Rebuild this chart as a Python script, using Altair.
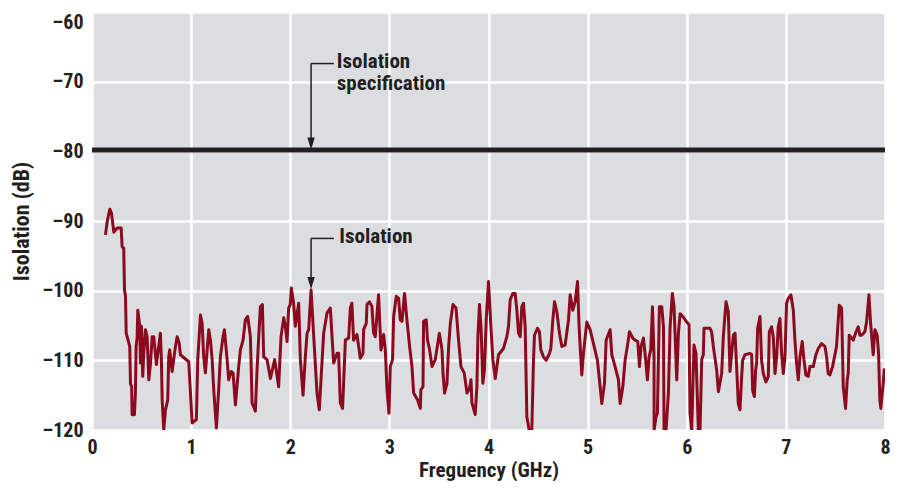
import altair as alt
import pandas as pd

# --- measured isolation trace (GHz, dB) ---
freq = [0.136,0.153,0.18,0.197,0.22,0.254,0.294,0.304,0.32,0.328,0.338,0.345,0.381,0.388,0.400,0.405,0.428,0.438,0.445,0.455,0.462,0.482,0.489,0.499,0.512,0.522,0.539,0.556,0.573,0.59,0.607,0.623,0.65,0.664,0.69,0.70,0.708,0.724,0.741,0.764,0.774,0.784,0.808,0.842,0.859,0.879,0.892,0.976,1.01,1.053,1.067,1.094,1.111,1.127,1.144,1.178,1.195,1.212,1.228,1.255,1.278,1.295,1.322,1.336,1.363,1.379,1.404,1.423,1.447,1.48,1.497,1.524,1.547,1.571,1.598,1.615,1.648,1.665,1.682,1.699,1.719,1.732,1.766,1.8,1.843,1.883,1.907,1.934,1.951,1.968,1.984,2.0,2.011,2.034,2.051,2.085,
        2.102,2.129,2.152,2.17,2.186,2.21,2.237,2.27,2.293,2.337,2.371,2.404,2.438,2.472,2.488,2.505,2.528,2.556,2.589,2.606,2.622,2.639,2.673,2.707,2.734,2.74,2.767,2.774,2.8,2.824,2.841,2.858,2.881,2.891,2.915,2.942,2.959,2.976,2.996,3.009,3.032,3.043,3.07,3.093,3.11,3.127,3.153,3.177,3.204,3.228,3.245,3.285,3.312,3.318,3.339,3.345,3.372,3.385,3.406,3.43,3.463,3.504,3.531,3.541,3.557,3.581,3.598,3.615,3.641,3.672,3.698,3.722,3.755,3.783,3.809,3.823,3.833,3.866,3.883,3.893,3.909,3.926,3.943,3.959,3.977,4.0,4.024,4.044,4.068,4.101,4.151,4.185,4.202,
        4.219,4.246,4.269,4.286,4.303,4.32,4.336,4.353,4.37,4.387,4.41,4.437,4.454,4.464,4.494,4.514,4.528,4.555,4.582,4.615,4.629,4.649,4.666,4.689,4.716,4.74,4.773,4.807,4.824,4.851,4.874,4.898,4.914,4.941,4.958,4.992,5.025,5.059,5.099,5.119,5.143,5.17,5.187,5.2,5.227,5.244,5.277,5.311,5.328,5.355,5.378,5.405,5.422,5.455,5.479,5.506,5.523,5.539,5.563,5.586,5.603,5.62,5.637,5.654,5.67,5.671,5.69,5.704,5.724,5.748,5.765,5.771,5.791,5.815,5.832,5.855,5.872,5.899,5.916,5.933,5.96,6.0,6.023,6.033,
        6.05,6.073,6.093,6.117,6.134,6.151,6.167,6.174,6.235,6.251,6.268,6.302,6.319,6.352,6.369,6.396,6.419,6.436,6.47,6.487,6.503,6.52,6.537,6.554,6.564,6.587,6.638,6.655,6.665,6.682,6.695,6.705,6.715,6.739,6.755,6.772,6.799,6.823,6.833,6.856,6.873,6.89,6.907,6.923,6.94,6.957,6.974,6.991,7.007,7.024,7.051,7.075,7.091,7.108,7.125,7.142,7.165,7.182,7.202,7.226,7.243,7.276,7.303,7.327,7.36,7.394,7.411,7.427,7.444,7.471,7.495,7.511,7.538,7.562,7.579,7.602,7.619,7.629,7.639,7.663,7.68,7.703,7.73,7.747,7.764,7.797,7.814,7.838,7.854,7.881,7.898,7.921,7.935,7.948,7.958,7.982,7.992,8.0]

isolation = [-92.0,-90.1,-88.3,-88.9,-91.6,-91.0,-91.0,-93.7,-93.9,-99.9,-100.8,-106.1,-108.0,-113.3,-113.8,-117.8,-117.8,-114.7,-108.0,-106.8,-102.8,-105.1,-110.4,-105.1,-112.3,-109.0,-105.6,-106.6,-112.8,-110.4,-106.6,-106.6,-110.6,-109.0,-106.1,-109.9,-115.7,-120.0,-117.1,-115.7,-109.5,-108.5,-111.6,-108.0,-106.6,-107.5,-109.2,-110.2,-119.0,-118.5,-109.9,-103.5,-104.7,-109.5,-111.8,-105.6,-107.1,-109.9,-114.2,-119.7,-114.2,-109.5,-106.6,-105.6,-109.9,-112.8,-111.6,-111.8,-116.4,-110.9,-108.5,-107.1,-104.2,-103.7,-106.6,-116.1,-117.3,-111.4,-106.6,-102.3,-102.0,-109.5,-109.9,-112.6,-109.9,-113.8,-106.6,-103.9,-105.1,-107.3,-102.5,-102.0,-99.6,-101.8,-105.1,-101.8,
             -109.9,-115.0,-109.5,-106.1,-105.6,-99.9,-106.6,-114.7,-117.1,-106.1,-103.2,-102.5,-110.4,-109.0,-109.0,-116.1,-116.9,-107.1,-106.8,-102.5,-101.8,-107.1,-106.3,-109.7,-109.0,-105.6,-104.7,-102.0,-101.6,-102.3,-106.1,-106.6,-102.3,-100.6,-108.5,-106.3,-108.5,-114.2,-117.6,-110.9,-109.9,-103.7,-100.8,-101.1,-104.2,-104.4,-100.4,-104.2,-108.0,-110.9,-114.7,-115.7,-116.9,-114.2,-113.8,-104.4,-104.2,-107.1,-108.5,-110.9,-109.9,-106.1,-108.5,-111.8,-114.7,-113.3,-108.0,-104.7,-102.0,-102.5,-107.1,-110.9,-111.8,-114.7,-114.0,-112.8,-116.1,-117.8,-113.8,-106.6,-102.0,-105.6,-113.3,-111.4,-104.2,-98.7,-105.1,-109.9,-112.6,-109.2,-108.3,-106.6,-105.1,
             -101.3,-100.4,-100.4,-102.8,-106.1,-106.6,-102.3,-101.8,-105.2,-118.1,-120.0,-120.0,-110.0,-106.4,-105.4,-105.9,-108.5,-109.5,-110.0,-109.0,-108.3,-104.2,-101.6,-103.0,-106.1,-108.0,-107.8,-104.2,-100.6,-102.8,-101.6,-98.7,-105.2,-112.1,-109.0,-104.5,-105.6,-107.6,-110.0,-112.8,-116.2,-113.3,-107.1,-106.6,-105.6,-109.2,-110.9,-112.8,-116.2,-113.8,-110.0,-107.6,-105.9,-106.8,-107.1,-107.3,-110.9,-108.0,-106.8,-110.0,-112.8,-109.5,-108.5,-102.3,-109.5,-120.0,-118.1,-117.6,-102.3,-102.3,-105.2,-120.0,-120.0,-114.7,-105.2,-100.4,-102.3,-112.8,-106.1,-103.3,-103.7,-104.5,-104.9,-117.6,
             -120.0,-107.8,-109.0,-120.0,-120.0,-109.9,-109.2,-105.4,-105.4,-105.9,-108.0,-111.4,-114.5,-111.9,-106.6,-101.6,-103.0,-111.6,-106.4,-106.1,-110.9,-116.2,-117.1,-112.3,-110.0,-109.2,-109.0,-109.2,-114.3,-115.2,-111.4,-110.4,-105.4,-103.7,-110.0,-111.9,-113.1,-112.3,-105.9,-105.2,-106.6,-111.9,-109.5,-105.2,-104.0,-109.0,-111.9,-109.5,-101.8,-101.1,-100.6,-102.8,-107.1,-110.4,-112.8,-109.5,-107.3,-109.9,-112.1,-112.3,-110.9,-110.9,-109.2,-108.3,-107.6,-108.0,-109.5,-111.9,-112.1,-110.9,-109.2,-108.0,-102.1,-102.5,-113.8,-116.9,-112.8,-111.9,-106.4,-106.8,-107.1,-106.1,-105.2,-106.4,-106.4,-105.9,-104.5,-100.6,-104.5,-109.2,-105.6,-106.4,-109.0,-115.7,-116.9,-113.3,-111.4,-111.2]

# --- specification & axis ticks ---
spec_level = [-79.8]
x_ticks = [0, 1, 2, 3, 4, 5, 6, 7, 8]
y_ticks = [-120, -110, -100, -90, -80, -70, -60]

# --- annotation callouts (text, anchor positions in data units) ---
callout_text = ["Isolation", "specification", "Isolation"]
callout_x = [2.47, 2.47, 2.495]
callout_y = [-68.0, -71.2, -93.2]
leader_x = [2.21, 2.21]
leader_x2 = [2.44, 2.44]
leader_y = [-67.4, -92.5]
leader_tip = [-78.9, -98.9]

FONT = "Liberation Sans Narrow, Roboto Condensed, DejaVu Sans Condensed, Arial Narrow, sans-serif"
INK = "#231f20"
RED = "#8c0a1e"

trace = pd.DataFrame({"f": freq, "db": isolation, "i": list(range(len(freq)))})
spec = pd.DataFrame({"db": spec_level, "x0": [0], "x1": [8]})
texts = pd.DataFrame({"t": callout_text, "x": callout_x, "y": callout_y})
leaders = pd.DataFrame({"x": leader_x, "x2": leader_x2, "y": leader_y, "tip": leader_tip})

xs = alt.Scale(domain=[0, 8], nice=False, zero=False)
ys = alt.Scale(domain=[-120, -60], nice=False, zero=False, clamp=True)

xax = alt.Axis(values=x_ticks, format="d", title="Freguency (GHz)", grid=True,
               gridColor="white", gridWidth=2.5, ticks=False, domain=False,
               labelFont=FONT, labelFontSize=20, labelFontWeight="bold",
               labelColor=INK, labelPadding=7, titleFont=FONT, titleFontSize=21,
               titleFontWeight="bold", titleColor=INK, titlePadding=2,
               labelFlush=False)
yax = alt.Axis(values=y_ticks, title="Isolation (dB)", grid=True, gridColor="white",
               gridWidth=2.5, ticks=False, domain=False, labelFont=FONT,
               labelFontSize=20, labelFontWeight="bold", labelColor=INK,
               labelPadding=9,
               labelExpr="datum.value < 0 ? '\u2013' + abs(datum.value) : '' + datum.value",
               labelBaseline=alt.condition("datum.value == -60", alt.value("top"), alt.value("middle")),
               titleFont=FONT, titleFontSize=22, titleFontWeight="bold",
               titleColor=INK, titlePadding=8, labelFlush=False)

line = alt.Chart(trace).mark_line(color=RED, strokeWidth=3, strokeJoin="round",
                                  clip=True).encode(
    x=alt.X("f:Q", scale=xs, axis=xax),
    y=alt.Y("db:Q", scale=ys, axis=yax),
    order="i:Q",
)

spec_rule = alt.Chart(spec).mark_rule(color=INK, strokeWidth=5).encode(
    x="x0:Q", x2="x1:Q", y="db:Q"
)

h_lead = alt.Chart(leaders).mark_rule(color=INK, strokeWidth=1.5).encode(
    x="x:Q", x2="x2:Q", y="y:Q"
)
v_lead = alt.Chart(leaders).mark_rule(color=INK, strokeWidth=1.5).encode(
    x="x:Q", y="y:Q", y2="tip:Q"
)
heads = alt.Chart(leaders).mark_point(
    shape="M-0.6,-1L0.6,-1L0,1Z", filled=True, color=INK, size=150, opacity=1
).encode(x="x:Q", y="tip:Q")

labels = alt.Chart(texts).mark_text(
    font=FONT, fontSize=21, fontWeight="bold", color=INK,
    align="left", baseline="alphabetic"
).encode(x="x:Q", y="y:Q", text="t:N")

chart = alt.layer(line, spec_rule, h_lead, v_lead, heads, labels).properties(
    width=793, height=418,
    autosize=alt.AutoSizeParams(type="none"),
    padding={"left": 84, "top": 4, "right": 11, "bottom": 51},
).configure_view(fill="#dcdde0", stroke=None)

chart.save("out.html", embed_options={"renderer": "svg", "actions": False})
